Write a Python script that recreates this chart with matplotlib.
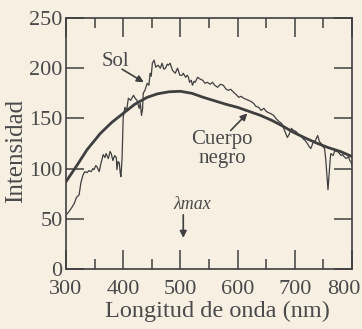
import matplotlib
matplotlib.use("Agg")
import matplotlib.pyplot as plt
from matplotlib.ticker import MultipleLocator
from matplotlib.transforms import ScaledTranslation

# ---- data ----
sun_wl = [302, 305, 311, 315, 318, 323, 326, 330, 333, 337, 340, 344, 347, 349, 352, 354,
          358, 361, 365, 368, 370, 374, 377, 379, 382, 385, 388, 389, 391, 393, 395, 396,
          398, 400, 403, 406, 409, 413, 418, 421, 424, 428, 430, 432, 434, 435, 438, 442,
          445, 447, 449, 451, 454, 457, 461, 465, 468, 471, 474, 477, 479, 482, 486, 491,
          495, 499, 503, 505, 509, 512, 514, 516, 519, 521, 524, 526, 530, 535, 539, 543,
          547, 552, 556, 560, 565, 570, 575, 580, 584, 588, 593, 597, 602, 606, 611, 615,
          619, 623, 628, 632, 637, 641, 646, 650, 653, 657, 663, 667, 672, 677, 682, 687,
          690, 694, 698, 702, 706, 710, 714, 718, 722, 725, 728, 732, 736, 740, 743, 746,
          749, 752, 754, 756, 758, 760, 762, 763, 767, 770, 773, 775, 778, 781, 784, 786,
          790, 794, 796, 798, 800]
sun_int = [55, 57, 62, 66, 71, 74, 86, 94, 97, 96, 98, 97, 100, 99, 103, 102,
           97, 105, 114, 111, 115, 110, 117, 115, 108, 113, 111, 99, 107, 106, 95, 92,
           110, 151, 161, 158, 170, 168, 173, 170, 168, 160, 165, 153, 160, 175, 178, 185,
           183, 195, 192, 205, 208, 201, 203, 200, 205, 199, 200, 204, 203, 205, 198, 195,
           200, 193, 193, 195, 191, 193, 191, 186, 188, 183, 187, 186, 191, 189, 188, 185,
           186, 184, 186, 183, 181, 184, 183, 179, 178, 179, 176, 174, 171, 172, 170, 169,
           168, 167, 165, 162, 161, 158, 160, 157, 156, 155, 153, 150, 147, 145, 138, 131,
           134, 140, 138, 137, 134, 133, 130, 128, 125, 122, 120, 126, 128, 133, 127, 125,
           122, 120, 110, 95, 79, 95, 110, 115, 113, 118, 117, 117, 115, 113, 114, 112,
           110, 112, 108, 107, 103]

bb_wl = [300, 320, 337, 360, 380, 400, 420, 442, 460, 480, 500, 520, 540, 560, 580, 600,
         620, 640, 660, 680, 698, 720, 740, 758, 780, 800]
bb_int = [87, 104, 119, 135, 146, 155, 164, 171, 174.5, 176.5, 177, 175, 171, 167.5, 164, 161,
          157, 153, 148, 142, 136, 130, 125, 121, 117, 112]

x_ticks = [300, 400, 500, 600, 700, 800]
y_ticks = [0, 50, 100, 150, 200, 250]

# ---- styling ----
bg = "#f8efe3"
ink = "#3f3f3f"
txt = "#4a4a4a"
plt.rcParams["font.family"] = ["Liberation Serif", "DejaVu Serif"]

fig = plt.figure(figsize=(3.62, 3.29), dpi=100, facecolor=bg)
ax = fig.add_axes([66 / 362, 60 / 329, 286 / 362, 251 / 329])
ax.set_facecolor(bg)

ax.plot(sun_wl, sun_int, color=ink, lw=0.9)
ax.plot(bb_wl, bb_int, color=ink, lw=2.0, solid_capstyle="round")

ax.set_xlim(300, 800)
ax.set_ylim(0, 250)
ax.set_xticks(x_ticks)
ax.set_yticks(y_ticks)
ax.xaxis.set_minor_locator(MultipleLocator(50))

for s in ax.spines.values():
    s.set_color(ink)
    s.set_linewidth(1.2)

ax.tick_params(axis="x", which="major", direction="in", length=14, width=1.1,
               top=True, bottom=True, colors=ink, labelcolor=txt, labelsize=16, pad=8)
ax.tick_params(axis="x", which="minor", direction="in", length=7, width=1.1,
               top=True, bottom=True, colors=ink)
ax.tick_params(axis="y", which="major", direction="in", length=13, width=1.1,
               left=True, right=True, colors=ink, labelcolor=txt, labelsize=16, pad=2.5)

# shift the last x tick label left so it stays inside the figure
fig.canvas.draw()
last = ax.get_xticklabels()[-1]
last.set_transform(last.get_transform() + ScaledTranslation(-8 / 100, 0, fig.dpi_scale_trans))

ax.set_xlabel("Longitud de onda (nm)", fontsize=17.5, color=txt)
ax.xaxis.set_label_coords(0.53, -0.125)
ax.set_ylabel("Intensidad", fontsize=18, color=txt)
ax.yaxis.set_label_coords(-0.135, 0.47)

# annotations
arrow_kw = dict(arrowstyle="-|>", color=ink, lw=1.2, mutation_scale=10, shrinkA=0, shrinkB=0)
ax.text(386, 207, "Sol", fontsize=15, color=txt, ha="center", va="center")
ax.annotate("", xy=(436, 186), xytext=(398, 199), arrowprops=arrow_kw)
ax.text(573, 120, "Cuerpo\nnegro", fontsize=15, color=txt, ha="center", va="center",
        linespacing=1.0)
ax.annotate("", xy=(617, 155), xytext=(588, 138), arrowprops=arrow_kw)
ax.text(520, 64, "λmax", fontsize=13, color=txt, style="italic", ha="center", va="center")
ax.annotate("", xy=(505, 31), xytext=(505, 54), arrowprops=arrow_kw)

fig.savefig("out.png", dpi=100, facecolor=bg)
